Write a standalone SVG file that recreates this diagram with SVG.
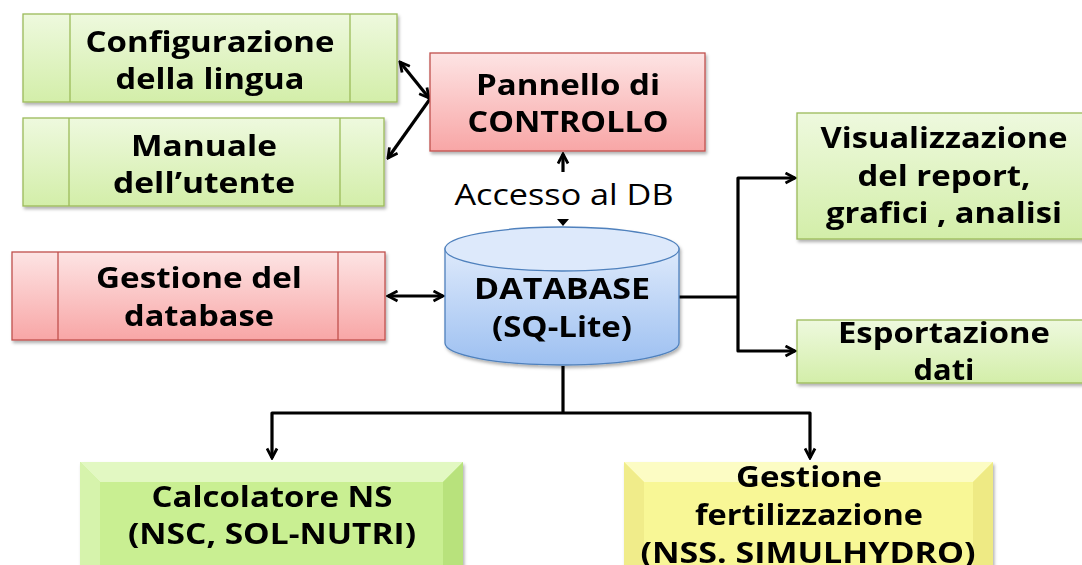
<svg xmlns="http://www.w3.org/2000/svg" width="1082" height="565" viewBox="0 0 1082 565">
<style>
.t{font-family:"Open Sans","Liberation Sans",sans-serif;font-weight:bold;font-size:29px;fill:#000;text-anchor:middle}
.r{font-family:"Open Sans","Liberation Sans",sans-serif;font-weight:normal;font-size:29px;fill:#000;text-anchor:middle}
.g{fill:url(#gG);stroke:#9bbb59;stroke-width:1.3}
.rd{fill:url(#gR);stroke:#c0504d;stroke-width:1.3}
.gl{stroke:#9bbb59;stroke-width:1.3}
.rl{stroke:#c0504d;stroke-width:1.3}
.c{fill:none;stroke:#000;stroke-width:3.2;stroke-linejoin:round}
</style>
<defs>
<linearGradient id="gG" x1="0" y1="0" x2="0" y2="1"><stop offset="0" stop-color="#eef9de"/><stop offset="1" stop-color="#d3eea9"/></linearGradient>
<linearGradient id="gR" x1="0" y1="0" x2="0" y2="1"><stop offset="0" stop-color="#fde4e4"/><stop offset="1" stop-color="#f8a6a6"/></linearGradient>
<linearGradient id="gB" x1="0" y1="0" x2="0" y2="1"><stop offset="0" stop-color="#dde9fb"/><stop offset="1" stop-color="#9dc0f1"/></linearGradient>
<filter id="sh" x="-5%" y="-5%" width="110%" height="120%"><feDropShadow dx="1.5" dy="2.5" stdDeviation="1.5" flood-color="#000" flood-opacity="0.3"/></filter>
<marker id="ah" viewBox="0 0 13 13" refX="11" refY="6.5" markerWidth="13" markerHeight="13" markerUnits="userSpaceOnUse" orient="auto-start-reverse">
<path d="M1.5,1.5 L11,6.5 L1.5,11.5" fill="none" stroke="#000" stroke-width="2.8" stroke-linejoin="miter"/>
</marker>
</defs>
<rect width="1082" height="565" fill="#fff"/>

<g id="connectors">
<line class="c" x1="400" y1="62" x2="429" y2="98" marker-start="url(#ah)" marker-end="url(#ah)"/>
<line class="c" x1="430" y1="99" x2="388" y2="158" marker-end="url(#ah)"/>
<line class="c" x1="563" y1="172" x2="563" y2="154" marker-end="url(#ah)"/>
<path d="M557,219 L569,219 L563,226 Z" fill="#000"/>
<line class="c" x1="388" y1="296" x2="443" y2="296" marker-start="url(#ah)" marker-end="url(#ah)"/>
<path class="c" d="M679,297 L738,297"/>
<path class="c" d="M795,178 L738,178 L738,351 L795,351" marker-start="url(#ah)" marker-end="url(#ah)"/>
<path class="c" d="M563,366 L563,413"/>
<path class="c" d="M272,458 L272,413 L810,413 L810,458" marker-start="url(#ah)" marker-end="url(#ah)"/>
</g>

<g id="config" filter="url(#sh)">
<rect class="g" x="23" y="14" width="374" height="88"/>
<line class="gl" x1="70" y1="14" x2="70" y2="102"/>
<line class="gl" x1="350" y1="14" x2="350" y2="102"/>
<text class="t" x="210" y="52" textLength="249" lengthAdjust="spacingAndGlyphs">Configurazione</text>
<text class="t" x="210" y="89" textLength="189" lengthAdjust="spacingAndGlyphs">della lingua</text>
</g>

<g id="manuale" filter="url(#sh)">
<rect class="g" x="23" y="118" width="361" height="88"/>
<line class="gl" x1="69" y1="118" x2="69" y2="206"/>
<line class="gl" x1="340" y1="118" x2="340" y2="206"/>
<text class="t" x="204" y="156" textLength="146" lengthAdjust="spacingAndGlyphs">Manuale</text>
<text class="t" x="204" y="193" textLength="182" lengthAdjust="spacingAndGlyphs">dell’utente</text>
</g>

<g id="pannello" filter="url(#sh)">
<rect class="rd" x="430" y="53" width="275" height="98"/>
<text class="t" x="568" y="95" textLength="184" lengthAdjust="spacingAndGlyphs">Pannello di</text>
<text class="t" x="568" y="132" textLength="201" lengthAdjust="spacingAndGlyphs">CONTROLLO</text>
</g>

<g id="accesso">
<text class="r" x="564" y="205" textLength="219" lengthAdjust="spacingAndGlyphs">Accesso al DB</text>
</g>

<g id="gestione-db" filter="url(#sh)">
<rect class="rd" x="12" y="252" width="373" height="88"/>
<line class="rl" x1="58" y1="252" x2="58" y2="340"/>
<line class="rl" x1="338" y1="252" x2="338" y2="340"/>
<text class="t" x="199" y="288" textLength="206" lengthAdjust="spacingAndGlyphs">Gestione del</text>
<text class="t" x="199" y="326" textLength="150" lengthAdjust="spacingAndGlyphs">database</text>
</g>

<g id="database" filter="url(#sh)">
<path d="M445,249 L445,343 A117,22 0 0 0 679,343 L679,249 Z" fill="url(#gB)" stroke="#4f81bd" stroke-width="1.3"/>
<ellipse cx="562" cy="249" rx="117" ry="22" fill="#dde9fb" stroke="#4f81bd" stroke-width="1.3"/>
<text class="t" x="562" y="299" textLength="176" lengthAdjust="spacingAndGlyphs">DATABASE</text>
<text class="t" x="562" y="337" textLength="140" lengthAdjust="spacingAndGlyphs">(SQ-Lite)</text>
</g>

<g id="visualizzazione" filter="url(#sh)">
<rect class="g" x="797" y="113" width="296" height="126"/>
<text class="t" x="944" y="148" textLength="247" lengthAdjust="spacingAndGlyphs">Visualizzazione</text>
<text class="t" x="944" y="186" textLength="173" lengthAdjust="spacingAndGlyphs">del report,</text>
<text class="t" x="944" y="223" textLength="236" lengthAdjust="spacingAndGlyphs">grafici , analisi</text>
</g>

<g id="esportazione" filter="url(#sh)">
<rect class="g" x="797" y="320" width="296" height="63"/>
<text class="t" x="944" y="343" textLength="212" lengthAdjust="spacingAndGlyphs">Esportazione</text>
<text class="t" x="944" y="380" textLength="61" lengthAdjust="spacingAndGlyphs">dati</text>
</g>

<g id="calcolatore" filter="url(#sh)">
<rect x="80" y="462" width="383" height="110" fill="#c9ef92"/>
<polygon points="80,462 463,462 443,482 100,482" fill="#e2f8c2"/>
<polygon points="80,462 100,482 100,572 80,572" fill="#d6f3ac"/>
<polygon points="463,462 443,482 443,572 463,572" fill="#b8e27c"/>
<text class="t" x="272" y="507" textLength="241" lengthAdjust="spacingAndGlyphs">Calcolatore NS</text>
<text class="t" x="272" y="544" textLength="288" lengthAdjust="spacingAndGlyphs">(NSC, SOL-NUTRI)</text>
</g>

<g id="fertilizzazione" filter="url(#sh)">
<rect x="624" y="462" width="369" height="110" fill="#f8f796"/>
<polygon points="624,462 993,462 973,482 644,482" fill="#fcfcc4"/>
<polygon points="624,462 644,482 644,572 624,572" fill="#f0ec8a"/>
<polygon points="993,462 973,482 973,572 993,572" fill="#eeea84"/>
<text class="t" x="809" y="487" textLength="146" lengthAdjust="spacingAndGlyphs">Gestione</text>
<text class="t" x="809" y="525" textLength="228" lengthAdjust="spacingAndGlyphs">fertilizzazione</text>
<text class="t" x="808" y="563" textLength="335" lengthAdjust="spacingAndGlyphs">(NSS. SIMULHYDRO)</text>
</g>
</svg>
